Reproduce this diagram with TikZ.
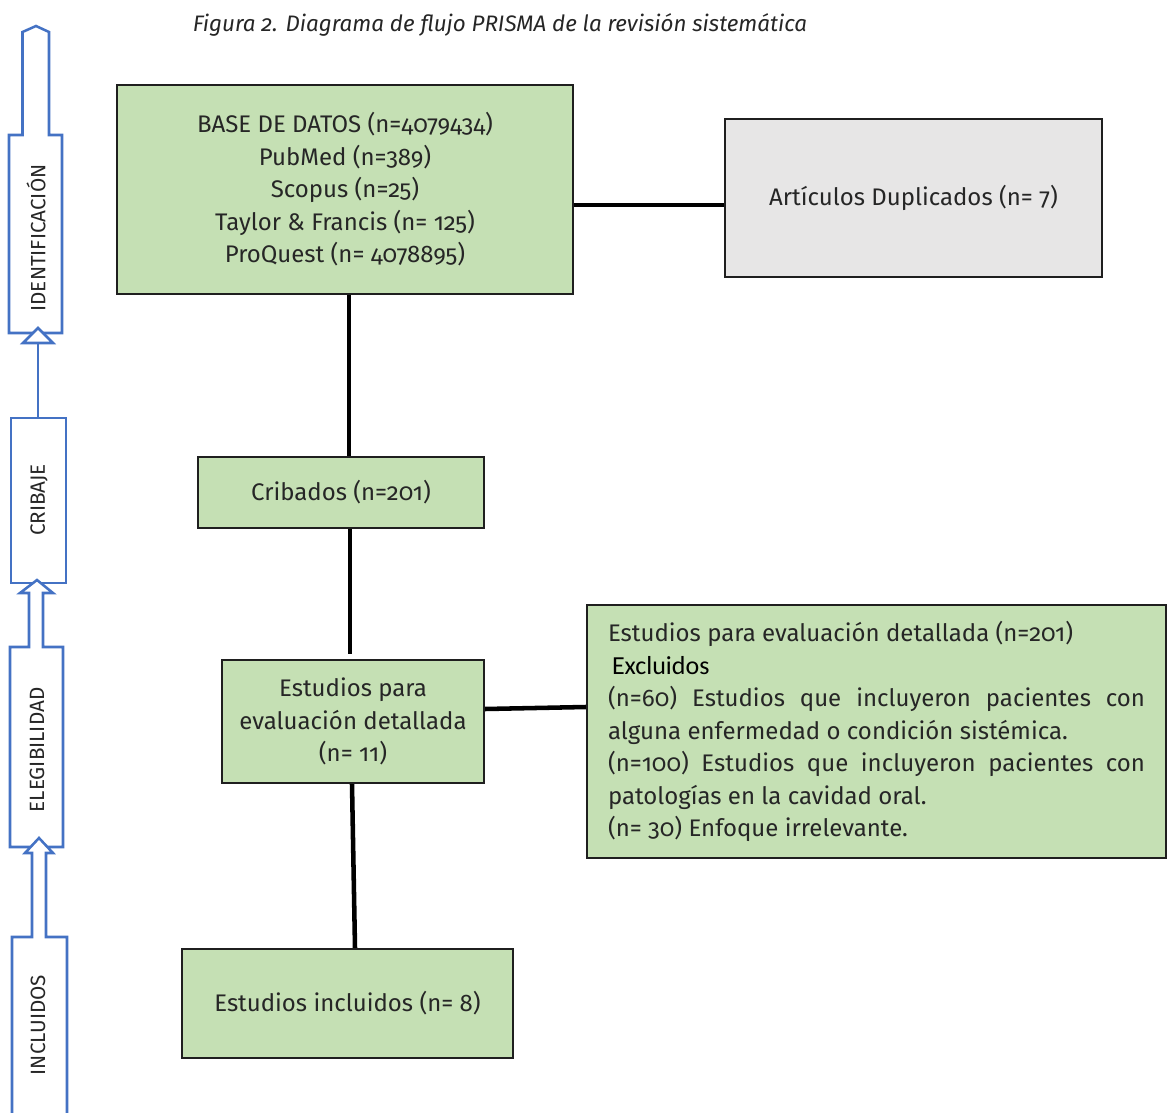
\documentclass[tikz,border=0pt]{standalone}
\usepackage{fontspec}
\setmainfont{Fira Sans}[Numbers=OldStyle]
\newfontfamily\exfont{Carlito}
\definecolor{boxgreen}{HTML}{C5E0B4}
\definecolor{boxgrey}{HTML}{E7E6E6}
\definecolor{stageblue}{HTML}{4472C4}
\definecolor{txt}{HTML}{262626}
\newcommand{\fs}{\fontsize{18}{24.4}\selectfont}
\newcommand{\stfont}{\fontsize{15.5}{17}\selectfont}
\begin{document}
\hyphenpenalty=10000
\begin{tikzpicture}[x=0.75pt,y=-0.75pt,
  box/.style={draw=black!88,line width=1.6pt,fill=boxgreen,align=center,inner sep=0pt,font=\fs,text=txt},
  link/.style={line width=3.4pt,black},
  stage/.style={draw=stageblue,line width=1.9pt,fill=white,line join=miter},
  stagetext/.style={rotate=90,font=\stfont,text=txt}]
\useasboundingbox (0,0) rectangle (1168,1113);
\clip (0,0) rectangle (1168,1113);
% title
\node[font=\fontsize{16.8}{19}\selectfont\itshape,text=txt] (title) at (500,25) {Figura 2. Diagrama de flujo PRISMA de la revisión sistemática};
% left stage arrows
\draw[stage] (9,333) -- (9,135) -- (22.5,135) -- (22.5,32) -- (36,26) -- (49,32) -- (49,135) -- (62,135) -- (62,333) -- cycle;
\node[stagetext] (sid) at (36,238) {IDENTIFICACIÓN};
\draw[stage] (11,418) rectangle (66,583);
\draw[stage] (38,418) -- (38,343);
\draw[stage] (23,343) -- (38,328) -- (53,343) -- cycle;
\node[stagetext] (scr) at (39,500) {CRIBAJE};
\draw[stage] (10,847) -- (10,647) -- (29,647) -- (29,593) -- (20,593) -- (37,580) -- (53,593) -- (43,593) -- (43,647) -- (63,647) -- (63,847) -- cycle;
\node[stagetext] (sel) at (37,750) {ELEGIBILIDAD};
\draw[stage] (12,1125) -- (12,937) -- (32,937) -- (32,853) -- (25,853) -- (39,838) -- (53,853) -- (46,853) -- (46,937) -- (67,937) -- (67,1125);
\node[stagetext] (sin) at (38,1025) {INCLUIDOS};
% boxes
\node[box,minimum width=342pt,minimum height=156.75pt] (b1) at (345,189.5)
  {BASE DE DATOS (n=4079434)\\PubMed (n=389)\\Scopus (n=25)\\Taylor \& Francis (n= 125)\\ProQuest (n= 4078895)};
\node[box,fill=boxgrey,minimum width=282.75pt,minimum height=118.5pt] (b2) at (913.5,198)
  {Artículos Duplicados (n= 7)};
\node[box,minimum width=214.5pt,minimum height=53.25pt] (b3) at (341,492.5) {Cribados (n=201)};
\node[box,minimum width=196.5pt,minimum height=92.25pt] (b4) at (353,721.5)
  {Estudios para\\evaluación detallada\\(n= 11)};
\node[box,align=justify,text width=402.75pt,inner xsep=15.75pt,minimum height=189.75pt] (b5) at (876.5,731.5)
  {Estudios para evaluación detallada (n=201)\\
   \hspace*{3pt}{\exfont\fontsize{19.5}{24.4}\selectfont\color{black}Excluidos}\\
   (n=60) Estudios que incluyeron pacientes con alguna enfermedad o condición sistémica.\\
   (n=100) Estudios que incluyeron pacientes con patologías en la cavidad oral.\\
   (n= 30) Enfoque irrelevante.};
\node[box,minimum width=248.25pt,minimum height=81.75pt] (b6) at (347.5,1003.5) {Estudios incluidos (n= 8)};
% connectors
\coordinate (y205) at (0,205);
\coordinate (x349) at (349,0);
\coordinate (x352) at (352,0);
\coordinate (x355) at (355,0);
\draw[link] (b1.east |- y205) -- (b2.west |- y205);
\draw[link] (b1.south -| x349) -- (b3.north -| x349);
\draw[link] ([xshift=0.75pt]b3.south -| x349) -- ([xshift=0.75pt,yshift=3.75pt]b4.north -| x349);
\draw[link] (b4.east |- 0,709) -- (b5.west |- 0,707);
\draw[link] (b4.south -| x352) -- (b6.north -| x355);
\end{tikzpicture}
\end{document}
